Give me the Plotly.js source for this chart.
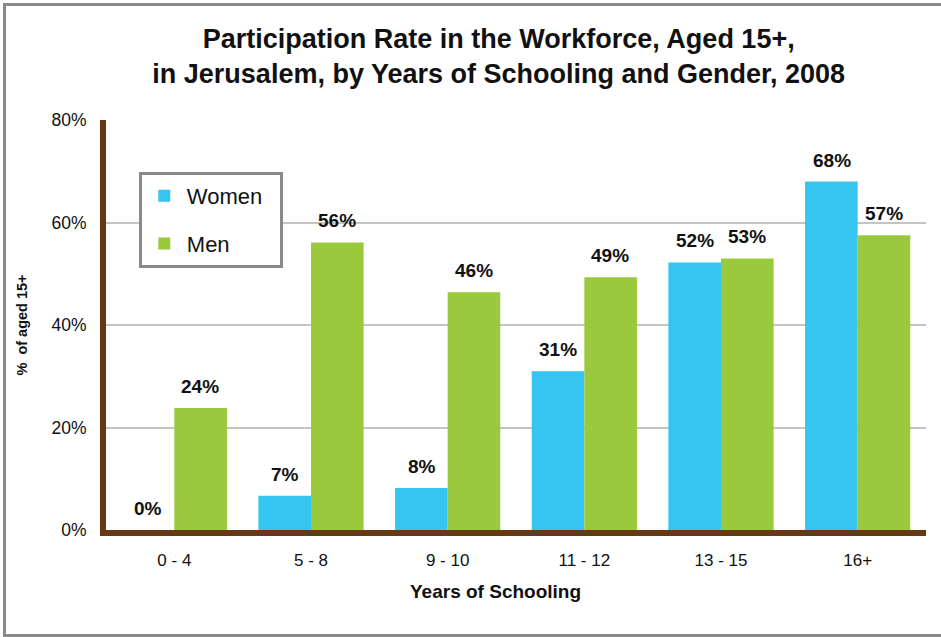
<!DOCTYPE html>
<html>
<head>
<meta charset="utf-8">
<script src="https://cdn.plot.ly/plotly-3.0.1.min.js"></script>
<style>
  html, body { margin: 0; padding: 0; background: #fff; overflow: hidden; }
  #chart { width: 941px; height: 637px; position: absolute; left: 0; top: 0; }
  #frame { position: absolute; left: 3px; top: 3px; width: 960px; height: 634px;
           box-sizing: border-box; border: 3px solid #8a8a8a; pointer-events: none; }
</style>
</head>
<body>
<div id="chart"></div>
<div id="frame"></div>
<script>
const categories = ["0 - 4", "5 - 8", "9 - 10", "11 - 12", "13 - 15", "16+"];
const women = [0, 6.7, 8.2, 31, 52.2, 68];
const men = [23.8, 56.1, 46.4, 49.3, 53, 57.5];
const womenLabels = ["0%", "7%", "8%", "31%", "52%", "68%"];
const menLabels = ["24%", "56%", "46%", "49%", "53%", "57%"];
const yTickVals = [0, 20, 40, 60, 80];
const yTickText = ["0%", "20%", "40%", "60%", "80%"];

const WOMEN_COLOR = "#35C5F0";
const MEN_COLOR = "#9AC93D";
const BROWN = "#663814";
const FONT = "Liberation Sans, Arial, sans-serif";

const traces = [
  { type: "bar", name: "Women\u00a0\u00a0", x: categories, y: women, marker: { color: WOMEN_COLOR },
    legendgroup: "w", hoverinfo: "skip" },
  { type: "bar", name: "Men", x: categories, y: men, marker: { color: MEN_COLOR },
    legendgroup: "m", hoverinfo: "skip" }
];

const annotations = [];
categories.forEach((c, i) => {
  annotations.push({ x: c, y: women[i], xref: "x", yref: "y", text: "<b>" + womenLabels[i] + "</b>",
    showarrow: false, xshift: -26, yshift: 9, yanchor: "bottom",
    font: { family: FONT, size: 19, color: "#111" } });
  annotations.push({ x: c, y: men[i], xref: "x", yref: "y", text: "<b>" + menLabels[i] + "</b>",
    showarrow: false, xshift: 26, yshift: 9, yanchor: "bottom",
    font: { family: FONT, size: 19, color: "#111" } });
});
annotations.push({ x: 0.4756, y: -0.151, xref: "paper", yref: "paper", text: "<b>Years of Schooling</b>",
  showarrow: false, xanchor: "center", yanchor: "middle",
  font: { family: FONT, size: 19, color: "#111" } });

const layout = {
  width: 941, height: 637,
  margin: { l: 106, r: 15, t: 120, b: 107 },
  paper_bgcolor: "#fff", plot_bgcolor: "#fff",
  font: { family: FONT, size: 17, color: "#111" },
  title: {
    text: "<b>Participation Rate in the Workforce, Aged 15+,<br>in Jerusalem, by Years of Schooling and Gender, 2008</b>",
    x: 0.530, xanchor: "center", y: 0.925, yanchor: "top",
    font: { family: FONT, size: 27, color: "#111" }
  },
  barmode: "group", bargap: 0.23, bargroupgap: 0,
  xaxis: {
    type: "category",
    showline: true, linecolor: BROWN, linewidth: 6,
    showgrid: false, ticks: "", ticklabelstandoff: 10,
    tickfont: { family: FONT, size: 17, color: "#111" }
  },
  yaxis: {
    range: [0, 80], tickvals: yTickVals, ticktext: yTickText,
    showline: true, linecolor: BROWN, linewidth: 6,
    showgrid: true, gridcolor: "#c4c4c4", gridwidth: 2,
    zeroline: false, ticks: "", ticklabelstandoff: 10,
    tickfont: { family: FONT, size: 17.5, color: "#111" },
    title: { text: "<b>%  of aged 15+</b>", font: { family: FONT, size: 14.5, color: "#111" }, standoff: 22 }
  },
  showlegend: true,
  legend: {
    x: 0.04, y: 0.873, xanchor: "left", yanchor: "top",
    bgcolor: "#fff", bordercolor: "#8a8a8a", borderwidth: 3,
    font: { family: FONT, size: 22, color: "#111" },
    traceorder: "grouped", tracegroupgap: 16,
    itemwidth: 35
  },
  annotations: annotations
};

Plotly.newPlot("chart", traces, layout, { displayModeBar: false, staticPlot: true });
</script>
</body>
</html>
